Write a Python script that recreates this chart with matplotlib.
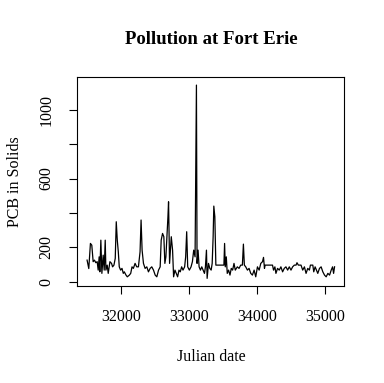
import matplotlib
matplotlib.use('Agg')
import matplotlib.pyplot as plt

# Julian dates and PCB in solids
dates = [31503, 31528, 31552, 31572, 31592, 31611, 31631, 31651, 31666, 31680,
         31690, 31705, 31720, 31739, 31754, 31769, 31779, 31798, 31813, 31838,
         31862, 31877, 31897, 31916, 31931, 31946, 31961, 31975, 31995, 32015,
         32034, 32049, 32074, 32093, 32123, 32143, 32162, 32182, 32207, 32231,
         32256, 32280, 32295, 32310, 32330, 32354, 32379, 32403, 32428, 32452,
         32477, 32502, 32526, 32551, 32575, 32590, 32610, 32629, 32644, 32659,
         32674, 32689, 32698, 32713, 32738, 32757, 32772, 32792, 32811, 32831,
         32851, 32870, 32890, 32910, 32934, 32949, 32964, 32979, 33003, 33028,
         33048, 33067, 33087, 33097, 33107, 33116, 33131, 33146, 33166, 33185,
         33205, 33225, 33239, 33254, 33264, 33284, 33303, 33323, 33338, 33352,
         33362, 33377, 33392, 33510, 33520, 33530, 33545, 33559, 33579, 33599,
         33618, 33638, 33658, 33677, 33707, 33732, 33756, 33781, 33796, 33810,
         33830, 33855, 33879, 33904, 33928, 33953, 33977, 34002, 34027, 34051,
         34076, 34091, 34105, 34115, 34223, 34238, 34258, 34273, 34297, 34322,
         34346, 34371, 34395, 34420, 34445, 34469, 34494, 34518, 34543, 34568,
         34582, 34602, 34641, 34666, 34691, 34715, 34740, 34764, 34779, 34814,
         34828, 34848, 34868, 34887, 34912, 34936, 34961, 34986, 35010, 35035,
         35060, 35084, 35104, 35119, 35133]
pcb = [126, 77, 223, 213, 117, 126, 111, 117, 68, 145,
       58, 242, 49, 155, 68, 242, 68, 97, 49, 117,
       107, 87, 97, 136, 349, 242, 174, 87, 68, 78,
       49, 58, 39, 29, 39, 49, 87, 78, 107, 87,
       87, 174, 359, 184, 107, 78, 87, 58, 78, 87,
       68, 39, 29, 68, 87, 242, 281, 262, 107, 145,
       262, 378, 465, 107, 262, 184, 29, 68, 49, 29,
       68, 58, 87, 68, 87, 145, 291, 87, 68, 87,
       117, 184, 145, 614, 1143, 107, 184, 87, 68, 87,
       68, 49, 87, 184, 20, 107, 78, 68, 107, 262,
       440, 378, 97, 97, 223, 87, 145, 49, 68, 39,
       78, 68, 107, 68, 87, 78, 97, 97, 219, 97,
       87, 68, 78, 49, 39, 68, 29, 87, 68, 107,
       117, 142, 78, 97, 97, 68, 87, 49, 78, 68,
       87, 58, 78, 87, 68, 87, 68, 87, 97, 97,
       111, 97, 97, 68, 87, 49, 78, 68, 97, 97,
       58, 87, 68, 49, 78, 87, 58, 39, 29, 49,
       39, 68, 87, 49, 87]

yticks = [0, 200, 400, 600, 800, 1000]
ylabels = ['0', '200', '', '600', '', '1000']
xticks = [32000, 33000, 34000, 35000]

plt.rcParams['font.family'] = 'Liberation Serif'

fig = plt.figure(figsize=(3.84, 3.83), dpi=100)
ax = fig.add_axes([0.201, 0.253, 0.696, 0.545])
ax.plot(dates, pcb, color='black', linewidth=0.9)
ax.margins(0.04)

ax.set_xticks(xticks)
ax.set_xticklabels([str(t) for t in xticks])
ax.set_yticks(yticks)
ax.set_yticklabels(ylabels, rotation=90, va='center')
ax.tick_params(direction='out', length=5.5, width=0.8, labelsize=11.5, pad=11)

ax.set_xlabel('Julian date', fontsize=11.5, labelpad=17)
ax.set_ylabel('PCB in Solids', fontsize=11.5, labelpad=11)
fig.text(0.549, 0.898, 'Pollution at Fort Erie', ha='center', va='center',
         fontsize=13.5, fontweight='bold')

for s in ax.spines.values():
    s.set_linewidth(0.8)

fig.savefig('out.png', dpi=100)
